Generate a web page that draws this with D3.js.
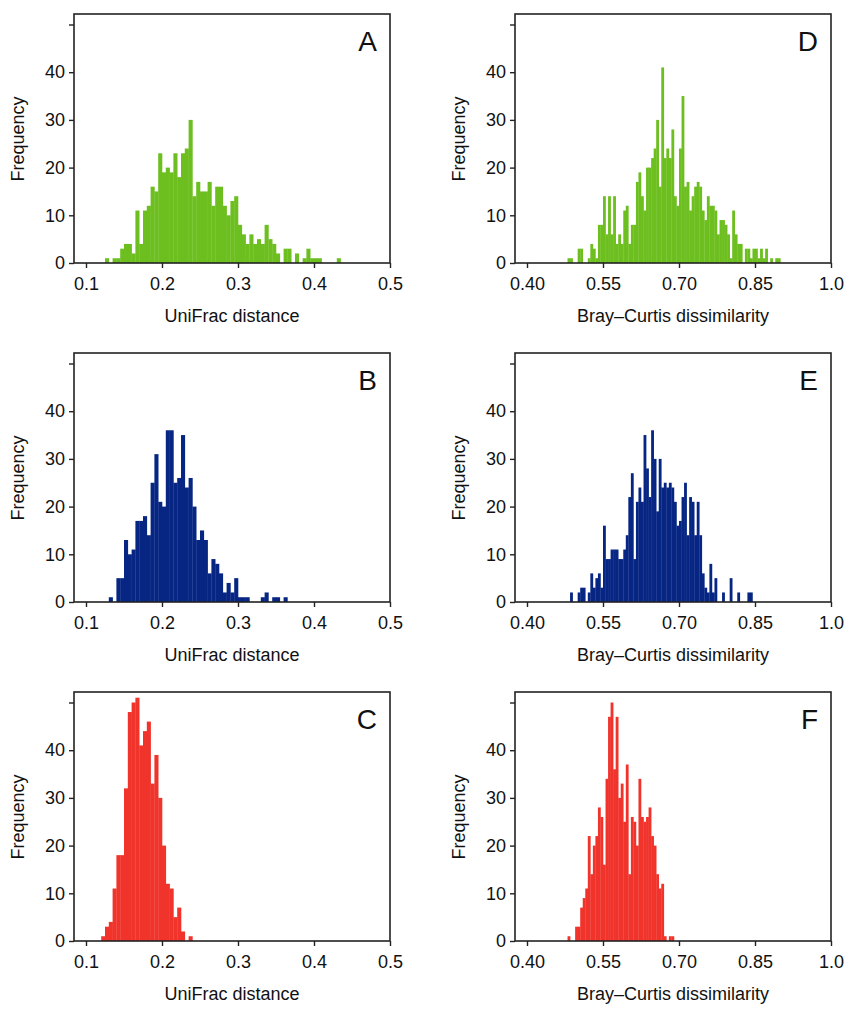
<!DOCTYPE html>
<html>
<head>
<meta charset="utf-8">
<script src="https://cdn.jsdelivr.net/npm/d3@7"></script>
<style>
  body { margin: 0; background: #fff; }
  text { font-family: Arial, "Liberation Sans", sans-serif; fill: #111; }
</style>
</head>
<body>
<script>
// bin counts, 0.005 wide bins, starting at the given value
let binWidth = 0.005
let startA = 0.125
let countsA = [1,0,1,1,3,4,4,2,11,4,11,12,16,15,23,19,20,19,23,18,23,24,30,14,17,15,15,17,12,16,16,12,10,13,14,8,6,4,6,4,5,4,8,5,4,2,0,3,3,0,2,0,1,3,1,1,1,0,0,0,0,1]
let startB = 0.125
let countsB = [0,1,0,5,5,13,10,11,17,17,18,14,25,31,21,20,36,36,25,26,35,24,26,20,13,15,13,6,9,8,6,2,4,2,5,1,1,1,0,0,0,1,2,0,1,1,0,1]
let startC = 0.12
let countsC = [1,3,4,11,18,18,32,48,50,51,41,44,46,33,39,30,20,12,11,5,7,2,0,1]
let startD = 0.48
let countsD = [1,1,0,0,3,3,0,0,1,4,3,1,8,8,14,6,14,6,14,4,6,4,11,12,4,8,8,17,19,14,11,20,20,22,24,30,16,41,22,24,22,28,14,12,24,35,16,17,11,14,16,17,16,11,9,14,12,12,11,6,9,9,8,6,1,11,6,4,4,0,3,3,1,3,3,1,3,1,3,0,1,0,1,1]
let startE = 0.485
let countsE = [2,0,0,2,3,3,0,2,6,3,5,6,3,16,9,9,11,11,11,9,9,11,14,22,27,9,21,24,21,35,28,22,36,30,19,30,24,25,24,25,24,21,16,17,22,25,14,22,21,14,21,14,6,3,2,8,2,5,0,0,2,0,0,5,0,0,2,0,0,0,2,2]
let startF = 0.48
let countsF = [1,0,0,3,3,7,9,11,22,14,20,22,28,26,16,34,47,50,36,47,30,33,25,37,14,26,25,20,34,26,25,26,28,22,20,14,11,12,1,0,1,1]

let uniTicks = [0.1, 0.2, 0.3, 0.4, 0.5]
let brayTicks = [0.40, 0.55, 0.70, 0.85, 1.0]
let brayTickLabels = ['0.40', '0.55', '0.70', '0.85', '1.0']
let yTicks = [0, 10, 20, 30, 40, 50]

let green = '#6cbf1e'
let blue = '#072683'
let red = '#f0342c'

let width = 864
let height = 1024
let svg = d3.select('body').append('svg')
  .attr('width', width)
  .attr('height', height)

let panels = [
  { letter: 'A', start: startA, counts: countsA, col: 0, row: 0, color: green },
  { letter: 'B', start: startB, counts: countsB, col: 0, row: 1, color: blue },
  { letter: 'C', start: startC, counts: countsC, col: 0, row: 2, color: red },
  { letter: 'D', start: startD, counts: countsD, col: 1, row: 0, color: green },
  { letter: 'E', start: startE, counts: countsE, col: 1, row: 1, color: blue },
  { letter: 'F', start: startF, counts: countsF, col: 1, row: 2, color: red }
]

function drawPanel (p) {
  let left = p.col === 0 ? 74 : 515
  let right = p.col === 0 ? 390 : 831
  let top = 14 + p.row * 339
  let bottom = 263 + p.row * 339

  let scaleX, ticks, labels, title
  if (p.col === 0) {
    scaleX = d3.scaleLinear().domain([0.1, 0.5]).range([86, 390])
    ticks = uniTicks
    labels = uniTicks.map(d => d3.format('.1f')(d))
    title = 'UniFrac distance'
  } else {
    scaleX = d3.scaleLinear().domain([0.40, 1.0]).range([527, 831])
    ticks = brayTicks
    labels = brayTickLabels
    title = 'Bray\u2013Curtis dissimilarity'
  }
  let scaleY = d3.scaleLinear().domain([0, 10]).range([bottom, bottom - 47.7])

  let g = svg.append('g')

  g.selectAll('rect.bar')
    .data(p.counts)
    .enter()
    .filter(d => d > 0)
    .append('rect')
    .attr('class', 'bar')
    .attr('x', d => 0)
    .each(function (d) {
      let i = p.counts.indexOf(d)
    })

  // draw bars by index (filter above loses indices, so do it plainly)
  g.selectAll('rect.bar').remove()
  g.selectAll('rect.bar')
    .data(p.counts.map((c, i) => ({ x0: p.start + i * binWidth, c: c })).filter(d => d.c > 0))
    .enter()
    .append('rect')
    .attr('class', 'bar')
    .attr('x', d => scaleX(d.x0))
    .attr('width', d => scaleX(d.x0 + binWidth) - scaleX(d.x0) + 0.3)
    .attr('y', d => scaleY(d.c))
    .attr('height', d => bottom - scaleY(d.c))
    .attr('fill', p.color)

  // frame
  g.append('rect')
    .attr('x', left)
    .attr('y', top)
    .attr('width', right - left)
    .attr('height', bottom - top)
    .attr('fill', 'none')
    .attr('stroke', '#222')
    .attr('stroke-width', 1.6)

  let xAxis = d3.axisBottom(scaleX)
    .tickValues(ticks)
    .tickFormat((d, i) => labels[i])
    .tickSize(5)
    .tickSizeOuter(0)
  let xg = g.append('g')
    .attr('transform', 'translate(0,' + bottom + ')')
    .call(xAxis)
  xg.select('.domain').remove()
  xg.selectAll('line').attr('stroke', '#222').attr('stroke-width', 1.4)
  xg.selectAll('text').attr('font-size', 18).attr('dy', '1.05em').style('fill', '#111')

  let yAxis = d3.axisLeft(scaleY)
    .tickValues(yTicks)
    .tickFormat(d => d === 50 ? '' : d)
    .tickSize(5)
    .tickSizeOuter(0)
  let yg = g.append('g')
    .attr('transform', 'translate(' + left + ',0)')
    .call(yAxis)
  yg.select('.domain').remove()
  yg.selectAll('line').attr('stroke', '#222').attr('stroke-width', 1.4)
  yg.selectAll('text').attr('font-size', 18).attr('dx', '-0.05em').style('fill', '#111')

  g.append('text')
    .attr('x', (left + right) / 2)
    .attr('y', bottom + 59)
    .attr('text-anchor', 'middle')
    .attr('font-size', 18)
    .text(title)

  g.append('text')
    .attr('transform', 'translate(' + (left - 50) + ',' + (top + 125) + ') rotate(-90)')
    .attr('text-anchor', 'middle')
    .attr('font-size', 18)
    .text('Frequency')

  g.append('text')
    .attr('x', right - 13)
    .attr('y', top + 37)
    .attr('text-anchor', 'end')
    .attr('font-size', 28)
    .text(p.letter)
}

panels.forEach(drawPanel)
</script>
</body>
</html>
